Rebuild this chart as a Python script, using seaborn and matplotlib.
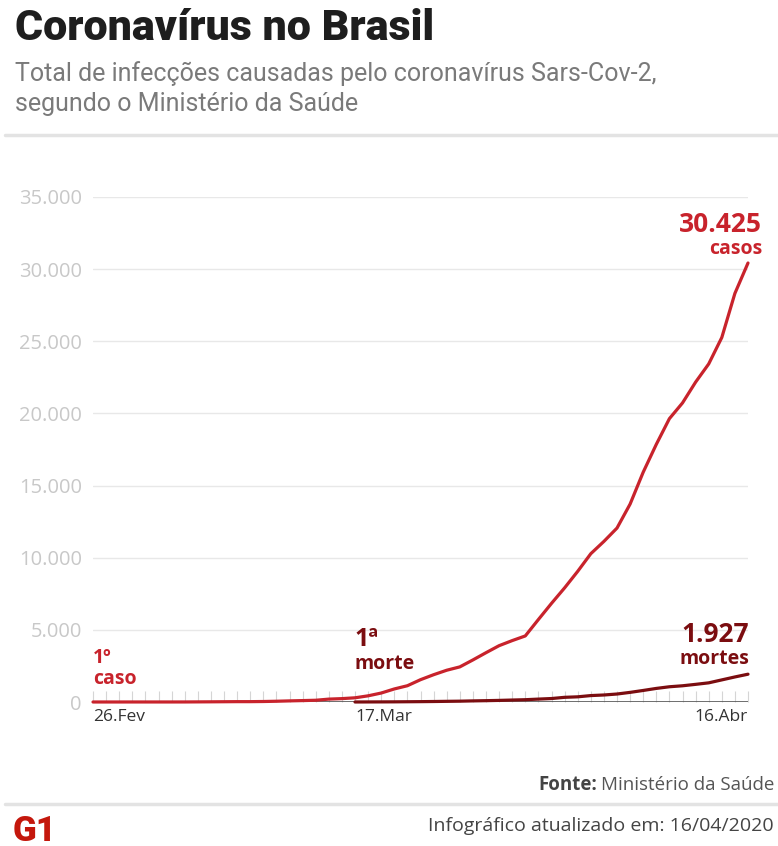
import matplotlib
matplotlib.use("Agg")
import matplotlib.pyplot as plt
import seaborn as sns
import pandas as pd
import numpy as np

# ---- data ----
dates = pd.date_range("2020-02-26", "2020-04-16", freq="D")
cases = [1, 1, 1, 2, 2, 2, 2, 3, 8, 13, 19, 25, 25, 34, 52, 77, 98, 121, 200, 234,
         291, 428, 621, 904, 1128, 1546, 1891, 2201, 2433, 2915, 3417, 3904, 4256, 4579,
         5717, 6836, 7910, 9056, 10278, 11130, 12056, 13717, 15927, 17857, 19638, 20727,
         22169, 23430, 25262, 28320, 30425]
death_dates = pd.date_range("2020-03-17", "2020-04-16", freq="D")
deaths = [1, 4, 7, 11, 18, 25, 34, 46, 57, 77, 92, 111, 136, 159, 201, 240, 324, 359,
          445, 486, 553, 667, 800, 941, 1056, 1124, 1223, 1328, 1532, 1736, 1927]
yticks = [0, 5000, 10000, 15000, 20000, 25000, 30000, 35000]
ytick_labels = ["0", "5.000", "10.000", "15.000", "20.000", "25.000", "30.000", "35.000"]
xlabel_days = ["2020-02-26", "2020-03-17", "2020-04-16"]
xlabels = ["26.Fev", "17.Mar", "16.Abr"]

RED = "#c8232c"
DARK = "#7b0d10"

sns.set_theme(style="white")
plt.rcParams["font.family"] = ["Open Sans", "DejaVu Sans"]

W, H = 778, 846
fig = plt.figure(figsize=(W / 100, H / 100), dpi=100)

def fx(px):
    return px / W

def fy(py):
    return 1 - py / H

ax = fig.add_axes([fx(93), fy(702), fx(748 - 93), (702 - 197) / H])

start = dates[0]
df_c = pd.DataFrame({"day": [(d - start).days for d in dates], "v": cases})
df_d = pd.DataFrame({"day": [(d - start).days for d in death_dates], "v": deaths})

# baseline and grid
ax.axhline(0, color="#555555", lw=1.2, zorder=1)
for y in yticks[1:]:
    ax.axhline(y, color="#e8e8e8", lw=1.0, zorder=0)

sns.lineplot(data=df_c, x="day", y="v", color=RED, lw=2.3, ax=ax, zorder=4, clip_on=False)
sns.lineplot(data=df_d, x="day", y="v", color=DARK, lw=2.3, ax=ax, zorder=3, clip_on=False)

ax.set_xlim(0, len(dates) - 1)
ax.set_ylim(0, 35000)
ax.set_xlabel("")
ax.set_ylabel("")
for s in ax.spines.values():
    s.set_visible(False)

ax.set_yticks(yticks)
ax.set_yticklabels(ytick_labels, color="#c8c8c8", fontsize=14.5)
ax.tick_params(axis="y", length=0, pad=8)

xpos = [(pd.Timestamp(d) - start).days for d in xlabel_days]
ax.set_xticks(np.arange(len(dates)), minor=True)
ax.set_xticks(xpos)
ax.set_xticklabels(xlabels, color="#333333", fontsize=12.5)
ax.tick_params(axis="x", which="both", direction="in", length=8, width=0.8,
               color="#d5d5d5", pad=5, bottom=True)
labs = ax.get_xticklabels()
labs[0].set_ha("left")
labs[1].set_ha("left")
labs[2].set_ha("right")

# annotations
fig.text(fx(762), fy(224), "30.425", color=RED, fontsize=19, fontweight="bold",
         ha="right", va="center")
fig.text(fx(762), fy(249), "casos", color=RED, fontsize=14, fontweight="bold",
         ha="right", va="center")
fig.text(fx(749), fy(634), "1.927", color=DARK, fontsize=19, fontweight="bold",
         ha="right", va="center")
fig.text(fx(749), fy(659), "mortes", color=DARK, fontsize=14, fontweight="bold",
         ha="right", va="center")
fig.text(fx(354), fy(640), "1ª", color=DARK, fontsize=18, fontweight="bold",
         ha="left", va="center")
fig.text(fx(354), fy(664), "morte", color=DARK, fontsize=14, fontweight="bold",
         ha="left", va="center")
fig.text(fx(93), fy(658), "1º", color=RED, fontsize=14, fontweight="bold",
         ha="left", va="center")
fig.text(fx(93), fy(679), "caso", color=RED, fontsize=14, fontweight="bold",
         ha="left", va="center")

# header
fig.text(fx(15), fy(29), "Coronavírus no Brasil", color="#1e1e1e", fontsize=31,
         fontweight="black", family=["Roboto", "DejaVu Sans"], ha="left", va="center")
fig.text(fx(15), fy(74), "Total de infecções causadas pelo coronavírus Sars-Cov-2,",
         color="#7a7a7a", fontsize=18, family=["Roboto", "DejaVu Sans"],
         ha="left", va="center")
fig.text(fx(15), fy(104), "segundo o Ministério da Saúde",
         color="#7a7a7a", fontsize=18, family=["Roboto", "DejaVu Sans"],
         ha="left", va="center")

# separators
fig.add_artist(plt.Line2D([fx(5), 1], [fy(135), fy(135)], color="#e3e3e3", lw=2.5))
fig.add_artist(plt.Line2D([fx(5), 1], [fy(804), fy(804)], color="#e3e3e3", lw=2.5))

# footer
fonte = fig.text(fx(538), fy(785), "Fonte:", color="#444444", fontsize=13.5,
                 fontweight="bold", ha="left", va="center")
ax.annotate("Ministério da Saúde", xy=(1, 0.5), xycoords=fonte, xytext=(3, 0),
            textcoords="offset points", color="#555555", fontsize=13.5,
            ha="left", va="center", annotation_clip=False)
fig.text(fx(428), fy(826), "Infográfico atualizado em: 16/04/2020", color="#444444",
         fontsize=14, ha="left", va="center")
fig.text(fx(13), fy(831), "G1", color="#c4170c", fontsize=25, fontweight="black",
         family=["Roboto", "DejaVu Sans"], ha="left", va="center")

fig.savefig("out.png", dpi=100)
